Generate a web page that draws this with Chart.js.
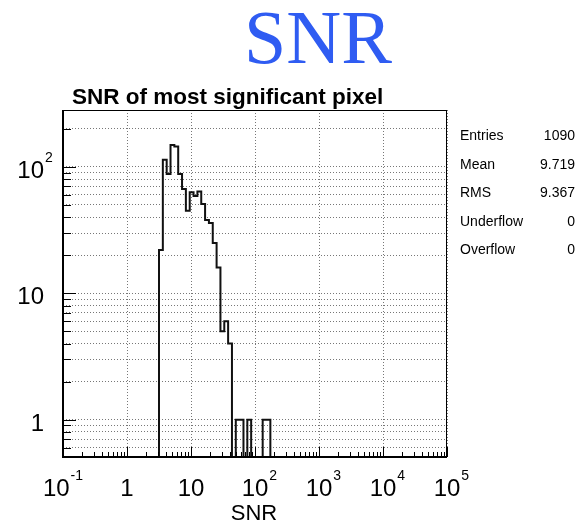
<!DOCTYPE html>
<html>
<head>
<meta charset="utf-8">
<title>SNR</title>
<script src="https://cdn.jsdelivr.net/npm/chart.js@4.4.1/dist/chart.umd.min.js"></script>
<style>
  html, body { margin: 0; padding: 0; background: #fff; }
  #wrap { position: relative; width: 583px; height: 522px; overflow: hidden; }
  #snr-chart { position: absolute; left: 0; top: 0; }
  .header {
    position: absolute; left: 200px; top: 1px; width: 236px;
    text-align: center; color: #2f5cf2;
    font: 76px/72px "Liberation Serif", "DejaVu Serif", serif;
  }
  .htitle {
    position: absolute; left: 72px; top: 86px; white-space: nowrap;
    font: bold 22.5px/22px "Liberation Sans", Arial, sans-serif; color: #000;
  }
  .stats { position: absolute; left: 460px; top: 0; width: 115px; font: 14px/14px "Liberation Sans", Arial, sans-serif; color: #000; }
  .stats .row { position: absolute; left: 0; width: 115px; white-space: nowrap; }
  .stats .val { position: absolute; right: 0; top: 0; }
</style>
</head>
<body>
<div id="wrap">
  <canvas id="snr-chart" width="583" height="522"></canvas>
  <div class="header">SNR</div>
  <div class="htitle">SNR of most significant pixel</div>
  <div class="stats" id="stats"></div>
</div>
<script>
// --- HISTOGRAM BINNING (100 log-spaced bins, 0.1 .. 1e5) ---
const N_BINS = 100;
const X_MIN = 0.1;
const X_MAX = 1e5;

// counts of the filled region, starting at bin FIRST_BIN
const FIRST_BIN = 24;
const binCounts = [0, 22, 114, 88, 149, 145, 88, 67, 45, 63, 59, 64, 51, 38, 36, 25, 16, 5, 6, 4, 0, 1, 1, 0, 1, 0, 0, 0, 1, 1, 0];

// y range of the frame
const Y_MIN = 0.507;
const Y_MAX = 282;

// axis decades and their labels (base, exponent)
const xDecades = [0.1, 1, 10, 100, 1000, 10000, 100000];
const xDecadeLabels = [['10', '-1'], ['1', ''], ['10', ''], ['10', '2'], ['10', '3'], ['10', '4'], ['10', '5']];
const yDecades = [0.1, 1, 10, 100];
const yLabelValues = [1, 10, 100];
const yDecadeLabels = [['1', ''], ['10', ''], ['10', '2']];

// statistics box
const statNames = ['Entries', 'Mean', 'RMS', 'Underflow', 'Overflow'];
const statValues = ['1090', '9.719', '9.367', '0', '0'];

// --- STATS BOX ---
const statsEl = document.getElementById('stats');
const STAT_TOP = 128, STAT_STEP = 28.5;
statNames.forEach((name, i) => {
  const row = document.createElement('div');
  row.className = 'row';
  row.style.top = (STAT_TOP + i * STAT_STEP) + 'px';
  row.innerHTML = name + '<span class="val">' + statValues[i] + '</span>';
  statsEl.appendChild(row);
});

// --- HELPERS ---
function binEdge(k) {
  return X_MIN * Math.pow(X_MAX / X_MIN, k / N_BINS);
}

// all 1..9 x 10^n values between lo and hi
function logSteps(decades, lo, hi) {
  const out = [];
  decades.forEach(d => {
    for (let m = 1; m <= 9; m++) {
      const v = +(d * m).toPrecision(6);
      if (v >= lo * 0.999 && v <= hi * 1.001) out.push(v);
    }
  });
  return out;
}

const yGridValues = logSteps(yDecades, Y_MIN, Y_MAX);
const xTickValues = logSteps(xDecades, X_MIN, X_MAX);

// outline points at each bin's low edge; empty bins sit on the frame floor
const histPoints = binCounts.map((c, i) => ({ x: binEdge(FIRST_BIN + i), y: c > 0 ? c : Y_MIN }));
histPoints.push({ x: binEdge(FIRST_BIN + binCounts.length), y: Y_MIN });

// --- FRAME, TICKS AND LABELS ---
const LABEL_FONT = '24px "Liberation Sans", Arial, sans-serif';
const SUP_FONT = '14px "Liberation Sans", Arial, sans-serif';

function drawPowerLabel(ctx, base, exp, x, baseline, align) {
  ctx.font = LABEL_FONT;
  const wBase = ctx.measureText(base).width;
  ctx.font = SUP_FONT;
  const wExp = exp ? ctx.measureText(exp).width + 1 : 0;
  let x0;
  if (align === 'right') x0 = x - wBase;
  else if (exp.startsWith('-')) x0 = x - (wBase + wExp) / 2;
  else x0 = x - wBase / 2;
  ctx.textAlign = 'left';
  ctx.textBaseline = 'alphabetic';
  ctx.font = LABEL_FONT;
  ctx.fillText(base, x0, baseline);
  if (exp) {
    ctx.font = SUP_FONT;
    ctx.fillText(exp, x0 + wBase + 1, baseline - 16);
  }
}

const rootFrame = {
  id: 'rootFrame',
  afterDatasetsDraw(chart) {
    const { ctx, chartArea: a, scales: { x, y } } = chart;
    ctx.save();
    ctx.strokeStyle = '#000';

    // tick marks, pointing into the frame
    ctx.lineWidth = 1;
    ctx.beginPath();
    xTickValues.forEach(v => {
      const px = Math.round(x.getPixelForValue(v)) + 0.5;
      const len = xDecades.includes(v) ? 10 : 5;
      ctx.moveTo(px, a.bottom);
      ctx.lineTo(px, a.bottom - len);
    });
    yGridValues.forEach(v => {
      const py = Math.round(y.getPixelForValue(v)) + 0.5;
      const len = yDecades.includes(v) ? 13 : 8;
      ctx.moveTo(a.left, py);
      ctx.lineTo(a.left + len, py);
    });
    ctx.stroke();

    // frame
    ctx.lineWidth = 1;
    ctx.strokeRect(a.left + 0.5, a.top + 0.5, a.right - a.left - 1, a.bottom - a.top - 1);
    ctx.lineWidth = 2;
    ctx.beginPath();
    ctx.moveTo(a.left, a.top);
    ctx.lineTo(a.left, a.bottom);
    ctx.lineTo(a.right, a.bottom);
    ctx.stroke();
    ctx.restore();
  },
  afterDraw(chart) {
    const { ctx, scales: { x, y } } = chart;
    ctx.save();
    ctx.fillStyle = '#000';
    xDecades.forEach((v, i) => {
      const [base, exp] = xDecadeLabels[i];
      drawPowerLabel(ctx, base, exp, x.getPixelForValue(v), 496, 'center');
    });
    yLabelValues.forEach((v, i) => {
      const [base, exp] = yDecadeLabels[i];
      drawPowerLabel(ctx, base, exp, 44, y.getPixelForValue(v) + 11, 'right');
    });
    // axis title
    ctx.font = '22px "Liberation Sans", Arial, sans-serif';
    ctx.textAlign = 'center';
    ctx.fillText('SNR', 254, 520);
    ctx.restore();
  }
};

// --- CHART ---
const gridDots = { color: '#777', lineWidth: 1, drawTicks: false };

new Chart(document.getElementById('snr-chart'), {
  type: 'line',
  data: {
    datasets: [{
      data: histPoints,
      stepped: 'before',
      borderColor: '#111',
      borderWidth: 2,
      pointRadius: 0,
      fill: false,
      tension: 0
    }]
  },
  options: {
    responsive: false,
    animation: false,
    events: [],
    layout: { padding: { left: 63, right: 136, top: 110, bottom: 65 } },
    plugins: { legend: { display: false }, tooltip: { enabled: false } },
    scales: {
      x: {
        type: 'logarithmic',
        min: X_MIN,
        max: X_MAX,
        afterBuildTicks: axis => { axis.ticks = xDecades.map(v => ({ value: v })); },
        ticks: { display: false },
        grid: gridDots,
        border: { display: false, dash: [1, 2] }
      },
      y: {
        type: 'logarithmic',
        min: Y_MIN,
        max: Y_MAX,
        afterBuildTicks: axis => { axis.ticks = yGridValues.map(v => ({ value: v })); },
        ticks: { display: false },
        grid: gridDots,
        border: { display: false, dash: [1, 2] }
      }
    }
  },
  plugins: [rootFrame]
});
</script>
</body>
</html>
